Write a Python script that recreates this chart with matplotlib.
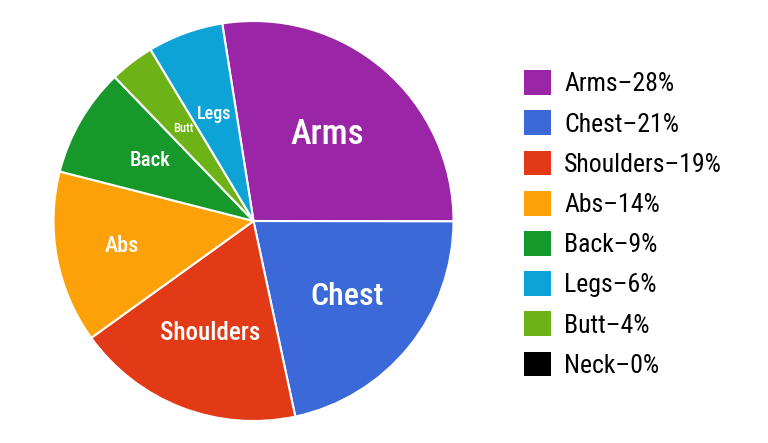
import matplotlib
matplotlib.use("Agg")
import matplotlib.pyplot as plt
from matplotlib import font_manager
import numpy as np

# slices in clockwise order, as drawn
slices = ["Arms", "Chest", "Shoulders", "Abs", "Back", "Butt", "Legs", "Neck"]
shares = [27.5, 21.6, 18.4, 13.9, 8.8, 3.6, 6.1, 0.0]
colors = ["#9b25a7", "#3b6ad8", "#e23a16", "#fca107", "#17982a", "#6db317", "#0ea3d6", "#000000"]

# legend order and the percentages it shows
legend_names = ["Arms", "Chest", "Shoulders", "Abs", "Back", "Legs", "Butt", "Neck"]
legend_pcts = [28, 21, 19, 14, 9, 6, 4, 0]

label_sizes = {"Arms": 25, "Chest": 23, "Shoulders": 18, "Abs": 16,
               "Back": 15, "Legs": 13, "Butt": 9, "Neck": 1}
label_dist = {"Arms": 0.57, "Chest": 0.6, "Shoulders": 0.6, "Abs": 0.67,
              "Back": 0.6, "Legs": 0.57, "Butt": 0.58, "Neck": 0.6}

names = {f.name for f in font_manager.fontManager.ttflist}
fam = "DejaVu Sans"
for cand in ["Roboto Condensed", "Liberation Sans Narrow", "DejaVu Sans Condensed", "Open Sans Condensed"]:
    if cand in names:
        fam = cand
        break
plt.rcParams["font.family"] = [fam, "DejaVu Sans"]

fig = plt.figure(figsize=(7.68, 4.43), dpi=100)
ax = fig.add_axes([0, 0, 1, 1])

cx, cy, r = 253.5, 443 - 221, 200
wedges, texts = ax.pie(shares, colors=colors, startangle=99, counterclock=False,
                       center=(cx, cy), radius=r, frame=True,
                       wedgeprops=dict(edgecolor="white", linewidth=1.5),
                       labels=slices, labeldistance=0.6)
ax.set_xlim(0, 768)
ax.set_ylim(0, 443)
ax.set_aspect("equal")
ax.axis("off")

for w, t, n in zip(wedges, texts, slices):
    t.set_color("white")
    t.set_fontsize(label_sizes[n])
    t.set_fontweight("medium")
    t.set_ha("center")
    t.set_va("center")
    ang = np.deg2rad((w.theta1 + w.theta2) / 2)
    t.set_position((cx + r * label_dist[n] * np.cos(ang),
                    cy + r * label_dist[n] * np.sin(ang)))
    if n == "Neck":
        t.set_visible(False)
        w.set_linewidth(0)

handles = [wedges[slices.index(n)] for n in legend_names]
labels = [f"{n}\u2013{p}%" for n, p in zip(legend_names, legend_pcts)]
leg = ax.legend(handles, labels, loc="upper left", bbox_to_anchor=(514 / 768, 1 - 60 / 443),
                bbox_transform=fig.transFigure, frameon=False, fontsize=18.5,
                handlelength=1.05, handleheight=1.1, handletextpad=0.5,
                labelspacing=0.55, borderaxespad=0)
for h in leg.legend_handles:
    h.set_edgecolor("none")

fig.savefig("out.png", dpi=100)
